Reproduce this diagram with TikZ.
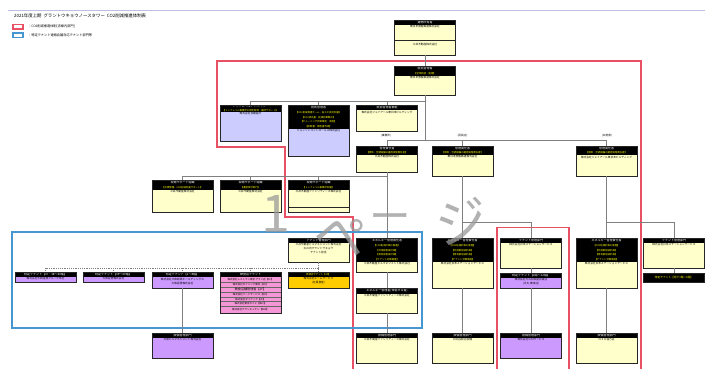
\documentclass[tikz,border=0pt]{standalone}
\usepackage{fontspec}
\setmainfont{Noto Sans CJK JP}
\definecolor{byel}{RGB}{255,255,204}
\definecolor{lav}{RGB}{204,204,255}
\definecolor{purp}{RGB}{204,153,255}
\definecolor{pinkc}{RGB}{245,150,215}
\definecolor{orng}{RGB}{255,204,0}
\definecolor{ylw}{RGB}{255,255,0}
\definecolor{crim}{RGB}{232,80,100}
\definecolor{skyb}{RGB}{70,150,210}
\definecolor{lavl}{RGB}{190,190,225}
\definecolor{conc}{RGB}{128,128,128}
\newcommand\yl[1]{{\fontsize{2.4}{3}\selectfont\color{ylw}#1}}
\tikzset{
  bx/.style={draw=black!85, line width=0.7pt, inner sep=0pt, minimum width=61pt, rectangle},
  hd/.style={text=white, font=\fontsize{3}{4.6}\selectfont, align=center, inner sep=0pt, text width=59pt},
  bd/.style={text=black, font=\fontsize{2.7}{4}\selectfont, align=center, inner sep=0pt, text width=59pt},
  lbl/.style={text=black, font=\fontsize{2.7}{3}\selectfont, inner sep=0pt},
  conn/.style={draw=conc, line width=0.7pt},
  dconn/.style={draw=conc, line width=0.6pt, dash pattern=on 1.2pt off 1pt},
  redframe/.style={draw=crim, line width=1.3pt},
  blueframe/.style={draw=skyb, line width=1.2pt},
  wm/.style={text=black!40, font=\fontsize{52}{52}\selectfont, inner sep=0pt, opacity=0.75}
}
% #1 name, #2 x1, #3 y1, #4 y2, #5 header bottom, #6 header, #7 fill, #8 body
\newcommand\obox[8]{%
  \pgfmathsetmacro\bh{#4-#3}%
  \pgfmathsetmacro\bcx{#2+30.5}%
  \pgfmathsetmacro\bcy{(#3+#4)/2}%
  \pgfmathsetmacro\hcy{(#3+#5)/2}%
  \node[bx, fill=#7, minimum height=\bh pt] (#1) at (\bcx,\bcy) {};
  \fill[black] (#2,#3) rectangle ({#2+61},#5);
  \node[hd] (#1h) at (\bcx,\hcy) {#6};
  \node[bd, anchor=north] (#1b) at (\bcx,{#5+0.5}) {#8};
  \draw[black!85, line width=0.7pt] (#2,#3) rectangle ({#2+61},#4);
}
\begin{document}
\begin{tikzpicture}[x=1pt,y=-1pt]
\useasboundingbox (0,0) rectangle (705,369);
\fill[white] (0,0) rectangle (705,369);

% title and legend
\draw[draw=lavl, line width=0.8pt] (8,10.5) -- (705,10.5);
\node[anchor=west, inner sep=0pt, font=\fontsize{4.4}{5}\selectfont] (title) at (14,15.5) {2021年度上期\ \ グラントウキョウノースタワー\ \ CO2削減推進体制表};
\draw[redframe] (13,24.5) rectangle (23,29);
\node[anchor=west, inner sep=0pt, font=\fontsize{3.2}{4}\selectfont] (leg1) at (28,26.8) {：CO2削減推進体制[赤線内部門]};
\draw[blueframe] (13,33) rectangle (23,37.5);
\node[anchor=west, inner sep=0pt, font=\fontsize{3.2}{4}\selectfont] (leg2) at (28,35.3) {：特定テナント連絡会議対応テナント部門等};

% outlines
\draw[redframe] (353,370) -- (353,217) -- (285,217) -- (285,147) -- (217,147) -- (217,61) -- (641,61) -- (641,370);
\draw[redframe] (497,370) -- (497,227.5) -- (569,227.5) -- (569,370);
\draw[blueframe] (12,232) rectangle (422,328);

% connector junctions
\coordinate (j1) at (425,101);
\coordinate (j2) at (425,140.5);
\coordinate (j3) at (387,176);
\coordinate (j4) at (462.5,222);
\coordinate (j5) at (606.5,222);
\coordinate (j6) at (318.5,268);

% boxes
\obox{top}{394.5}{20}{55}{25}{建物所有者}{byel}{東日本旅客鉄道株式会社}
\draw[black!85, line width=0.5pt] (394.5,40) -- (455.5,40);
\node[bd] (top2) at (425,44) {三井不動産株式会社};

\obox{sk}{394.5}{66}{95}{76}{統括管理者\\\yl{【全体統括・監督】}}{byel}{東日本旅客鉄道株式会社}
\obox{adv}{220}{105}{141}{112}{トップレベルアドバイザー\\\yl{【トップレベル事業所の認定取得・維持サポート】}}{lav}{株式会社日建設計}
\obox{gj}{288}{105}{156}{129}{技術管理者\\\yl{【CO2削減推進チーム・省エネ技術支援】}\\\yl{【CO2排出量・削減効果算出】}\\\yl{【チューニング計画策定・実施】}\\\yl{【診断書・報告書作成】}}{lav}{ジョンソンコントロールズ株式会社}
\obox{hs}{356.5}{105}{131}{110.5}{統括管理者補佐}{byel}{株式会社ジェイアール東日本ビルディング}

\obox{ka}{356.5}{146}{172}{155}{管理責任者\\\yl{【換気・空調設備の運用実施責任者】}}{byel}{三井不動産株式会社}
\obox{kb}{432}{146}{176}{155}{管理責任者\\\yl{【換気・空調設備の運用実施責任者】}}{byel}{東日本旅客鉄道株式会社}
\obox{kc}{576}{146}{176}{155}{管理責任者\\\yl{【換気・空調設備の運用実施責任者】}}{byel}{株式会社ジェイアール東日本ビルディング}

\obox{sa}{152}{180}{212}{190}{現場サポート組織\\\yl{【水質管理、CO2削減支援サポート】}}{byel}{三井不動産株式会社}
\obox{sb}{220}{180}{212}{190}{現場サポート組織\\\yl{【運営保守実行】}}{byel}{三井不動産株式会社}
\obox{sc}{288}{180}{212}{190}{現場サポート組織\\\yl{【トップレベル事業所支援】}}{byel}{三井不動産ファシリティーズ株式会社}
\draw[black!85, line width=0.5pt] (288,207) -- (349,207);

\obox{tl}{288}{238}{262}{243}{テナント管理部門}{byel}{三井不動産ビルマネジメント株式会社\\丸の内グラントウキョウ\\テナント担当}

\obox{ea}{356.5}{238}{272}{262}{エネルギー管理責任者\\\yl{【CO2削減計画の推進】}\\\yl{【共用部削減計画】}\\\yl{【専有部削減計画】}\\\yl{【テナント対策推進】}}{byel}{三井不動産ビルマネジメント株式会社}
\obox{eb}{356.5}{288}{313}{294}{エネルギー管理者(常駐する者)}{byel}{三井不動産ファシリティーズ株式会社}
\obox{ec}{356.5}{333}{363}{338}{設備管理部門}{byel}{三井不動産ファシリティーズ株式会社}

\obox{ed}{432}{238}{288}{262}{エネルギー管理責任者\\\yl{【CO2削減計画の推進】}\\\yl{【共用部削減計画】}\\\yl{【専有部削減計画】}\\\yl{【テナント対策推進】}}{byel}{株式会社日本ステーションサービス}
\obox{ee}{432}{333}{363}{338}{設備管理部門}{byel}{日比谷総合設備}

\obox{tb}{500.5}{238}{268}{243}{テナント管理部門}{byel}{株式会社日本ステーションサービス}
\obox{pa}{500.5}{273}{288}{278}{特定テナント【1階〜12階】}{purp}{株式会社大丸松坂屋百貨店\\(大丸 東京店)}
\obox{pb}{500.5}{333}{358}{338}{設備管理部門}{purp}{株式会社ＤＭサービス}

\obox{ef}{576}{238}{288}{262}{エネルギー管理責任者\\\yl{【CO2削減計画の推進】}\\\yl{【共用部削減計画】}\\\yl{【専有部削減計画】}\\\yl{【テナント対策推進】}}{byel}{株式会社日本ステーションサービス}
\obox{eg}{576}{333}{363}{338}{設備管理部門}{byel}{ＮＳＤ協力会}

\obox{tc}{643.5}{238}{268}{243}{テナント管理部門}{byel}{株式会社日本ステーションサービス}
\node[bx, fill=black, minimum height=9pt, font=\fontsize{2.7}{3}\selectfont, text=ylw] (bk) at (674,277.5) {特定テナント【地下1階〜1階】};

\obox{qa}{15}{272}{282}{277}{特定テナント【37・38〜40階】}{purp}{株式会社大和証券グループ本社}
\obox{qb}{83}{272}{282}{277}{特定テナント【39〜40階】}{purp}{大和証券株式会社}
\obox{qc}{152}{272}{288}{277}{特定テナント【1〜8階】}{purp}{株式会社大和総研ホールディングス\\大和証券株式会社}
\node[bx, fill=pinkc, minimum height=41pt] (qd) at (250.5,292.5) {};
\fill[black] (220,272) rectangle (281,277);
\node[hd] (qdh) at (250.5,274.5) {飲食店テナント};
\foreach \yy in {282.5,287,292.5,297,301.5,306} \draw[black!60, line width=0.3pt] (220,\yy) -- (281,\yy);
\begin{scope}[every node/.style={text=black, font=\fontsize{2.5}{3}\selectfont, inner sep=0pt}]
\node (qd1) at (250.5,280) {株式会社レストラン東京 グラン店【1F】};
\node (qd2) at (250.5,284.8) {株式会社ダイニング東京【1F】};
\node[font=\fontsize{3.1}{3.5}\selectfont] (qd3) at (250.5,289.8) {飲食店舗管理者【2F】};
\node (qd4) at (250.5,294.8) {株式会社フードサービス【2F】};
\node (qd5) at (250.5,299.3) {株式会社ダイナック【2F】};
\node (qd6) at (250.5,303.8) {株式会社東京カフェ【B1F】};
\node (qd7) at (250.5,309.3) {株式会社グランキッチン【B1F】};
\end{scope}
\draw[black!85, line width=0.7pt] (220,272) rectangle (281,313);
\obox{qe}{288}{272}{288}{277}{\yl{飲食店テナント【1F】}}{orng}{株式会社エームサービス\\(社員食堂)}
\obox{qf}{152}{333}{358}{338}{設備管理部門}{purp}{大和ビルマネジメント株式会社}

% labels
\node[lbl] (lb1) at (386,136) {(事務所)};
\node[lbl] (lb2) at (462.5,136) {(百貨店)};
\node[lbl] (lb3) at (607,136) {(共用部)};

% connectors
\draw[conn] (top.south) -- (sk.north);
\draw[conn] (sk.south) -- (j2);
\draw[conn] (adv.north) |- (j1);
\draw[conn] (gj.north) -- (gj.north |- j1);
\draw[conn] (hs.north) -- (hs.north |- j1);
\draw[conn] (ka.north) |- (j2);
\draw[conn] (kc.north) |- (j2);
\draw[conn] (kb.north) -- (kb.north |- j2);
\draw[conn] (ka.south) -- (ea.north);
\draw[conn] (sa.north) |- (j3);
\draw[conn] (sb.north) -- (sb.north |- j3);
\draw[conn] (sc.north) -- (sc.north |- j3);
\draw[conn] (ea.south) -- (eb.north);
\draw[conn] (eb.south) -- (ec.north);
\draw[conn] (kb.south) -- (ed.north);
\draw[conn] (j4) -| (tb.north);
\draw[conn] (ed.south) -- (ee.north);
\draw[conn] (tb.south) -- (pa.north);
\draw[conn] (pa.south) -- (pb.north);
\draw[conn] (kc.south) -- (ef.north);
\draw[conn] (j5) -| (tc.north);
\draw[conn] (ef.south) -- (eg.north);
\draw[conn] (tc.south) -- (bk.north);
\draw[dconn] (tl.south) -- (qe.north);
\draw[dconn] (j6) -| (qa.north);
\draw[dconn] (qb.north |- j6) -- (qb.north);
\draw[dconn] (qc.north |- j6) -- (qc.north);
\draw[dconn] (qd.north |- j6) -- (qd.north);
\draw[conn] (qc.south) -- (qf.north);

% watermark
\node[wm] (wm1) at (276,214) {1};
\node[wm, rotate=-10] (wm2) at (340,236) {ペ};
\node[wm, scale=0.8] (wm3) at (390,222) {ー};
\node[wm, rotate=10] (wm4) at (462,222) {ジ};
\end{tikzpicture}
\end{document}
